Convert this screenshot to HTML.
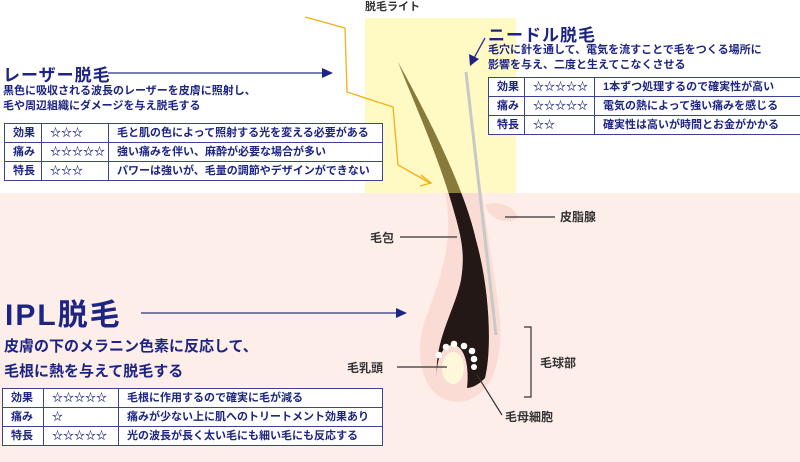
<!DOCTYPE html>
<html><head><meta charset="utf-8"><style>
body{margin:0;width:800px;height:462px;overflow:hidden;background:#fff;position:relative;font-family:"Liberation Sans","Noto Sans CJK JP",sans-serif;color:#1d2483}
.a{position:absolute;white-space:nowrap}
table{position:absolute;border-collapse:collapse;background:#fff;font-weight:bold;font-size:11px;color:#1d2483}
td{border:1.5px solid #3b4394;padding:0 0 0 8px;height:18px;line-height:18px}
.b{font-weight:bold}
</style></head><body>
<div class="a" style="left:0;top:193px;width:800px;height:269px;background:#fdeeea"></div>
<div class="a" style="left:365px;top:18px;width:151px;height:175px;background:#fff9c4"></div>
<svg class="a" style="left:0;top:0" width="800" height="462">
<defs><clipPath id="up"><rect x="0" y="0" width="800" height="193"/></clipPath><clipPath id="dn"><rect x="0" y="193" width="800" height="269"/></clipPath></defs>
<path d="M445 193 C455 240,440 280,425 320 C412 360,425 402,458 402 C492 400,503 360,500 320 C497 290,488 240,482 193 Z" fill="#fbdcd5"/>
<path d="M485 205 C495 200,515 205,518 218 C505 225,490 220,485 205Z" fill="#fbdcd5"/>
<g id="hair">
<path d="M398 62 C430 120,465 190,476 240 C490 290,492 350,485 378 C478 386,470 388,467 388 C470 360,462 345,453 345 C440 345,436 365,437 378 C434 340,455 310,461 280 C465 255,462 240,455 215 C440 160,415 105,398 62 Z" fill="#231815" clip-path="url(#dn)"/>
<path d="M398 62 C430 120,465 190,476 240 L455 215 C440 160,415 105,398 62 Z" fill="#877a3a" clip-path="url(#up)"/>
</g>
<line x1="466" y1="72" x2="496" y2="335" stroke="#c8c8c8" stroke-width="3"/>
<ellipse cx="453" cy="368" rx="11" ry="16" fill="#fdf8dc"/>
<g fill="#fff"><circle cx="439" cy="355" r="3.3"/><circle cx="446" cy="347" r="3.3"/><circle cx="454" cy="344" r="3.3"/><circle cx="464" cy="346" r="3.3"/><circle cx="472" cy="351" r="3.3"/><circle cx="474" cy="359" r="3.3"/><circle cx="474" cy="367" r="3"/></g>
<g stroke="#333" stroke-width="1.2" fill="none">
<line x1="505" y1="217" x2="555" y2="217"/><line x1="400" y1="237" x2="457" y2="237"/><line x1="397" y1="367" x2="447" y2="367"/>
<polyline points="524,327 531,327 531,397 524,397"/><line x1="477" y1="375" x2="502" y2="415"/></g>
<polyline points="305,17 345,28 347,92 393,107 398,165 430,183" fill="none" stroke="#f5b014" stroke-width="1.3"/>
<polyline points="421,175 431,183 420,186" fill="none" stroke="#f5b014" stroke-width="1.3"/>
<g stroke="#2b338d" stroke-width="1.3" fill="#1d2483">
<line x1="108" y1="73" x2="322" y2="73"/><path d="M322 68 L333 73 L322 78Z" stroke="none"/>
<line x1="141" y1="313" x2="396" y2="313"/><path d="M396 308 L407 313 L396 318Z" stroke="none"/>
<line x1="485" y1="38" x2="474" y2="58"/><path d="M469 54 L470 66 L479 59Z" stroke="none"/></g>
</svg>
<div class="a b" style="left:365px;top:-2px;font-size:11px;color:#333">脱毛ライト</div>
<div class="a b" style="left:3px;top:61px;font-size:17px;letter-spacing:1px">レーザー脱毛</div>
<div class="a b" style="left:3px;top:84px;font-size:11px;line-height:15px">黒色に吸収される波長のレーザーを皮膚に照射し、<br>毛や周辺組織にダメージを与え脱毛する</div>
<table style="left:4px;top:123px;width:379px"><tr><td style="width:28px">効果</td><td style="width:58px">☆☆☆</td><td>毛と肌の色によって照射する光を変える必要がある</td></tr><tr><td>痛み</td><td>☆☆☆☆☆</td><td>強い痛みを伴い、麻酔が必要な場合が多い</td></tr><tr><td>特長</td><td>☆☆☆</td><td>パワーは強いが、毛量の調節やデザインができない</td></tr></table>
<div class="a b" style="left:488px;top:21px;font-size:17px;letter-spacing:1px">ニードル脱毛</div>
<div class="a b" style="left:488px;top:43px;font-size:11px;line-height:15px">毛穴に針を通して、電気を流すことで毛をつくる場所に<br>影響を与え、二度と生えてこなくさせる</div>
<table style="left:488px;top:77px;width:314px"><tr><td style="width:27px">効果</td><td style="width:61px">☆☆☆☆☆</td><td>1本ずつ処理するので確実性が高い</td></tr><tr><td>痛み</td><td>☆☆☆☆☆</td><td>電気の熱によって強い痛みを感じる</td></tr><tr><td>特長</td><td>☆☆</td><td>確実性は高いが時間とお金がかかる</td></tr></table>
<div class="a b" style="left:5px;top:290px;font-size:30px;letter-spacing:2px">IPL脱毛</div>
<div class="a b" style="left:4px;top:334px;font-size:15px;line-height:25px">皮膚の下のメラニン色素に反応して、<br>毛根に熱を与えて脱毛する</div>
<table style="left:2px;top:388px;width:381px"><tr><td style="width:32px">効果</td><td style="width:66px">☆☆☆☆☆</td><td>毛根に作用するので確実に毛が減る</td></tr><tr><td>痛み</td><td>☆</td><td>痛みが少ない上に肌へのトリートメント効果あり</td></tr><tr><td>特長</td><td>☆☆☆☆☆</td><td>光の波長が長く太い毛にも細い毛にも反応する</td></tr></table>
<div class="a b" style="left:560px;top:208px;font-size:12px;color:#333">皮脂腺</div>
<div class="a b" style="left:370px;top:229px;font-size:12px;color:#333">毛包</div>
<div class="a b" style="left:347px;top:359px;font-size:12px;color:#333">毛乳頭</div>
<div class="a b" style="left:540px;top:354px;font-size:12px;color:#333">毛球部</div>
<div class="a b" style="left:505px;top:408px;font-size:12px;color:#333">毛母細胞</div>
</body></html>
